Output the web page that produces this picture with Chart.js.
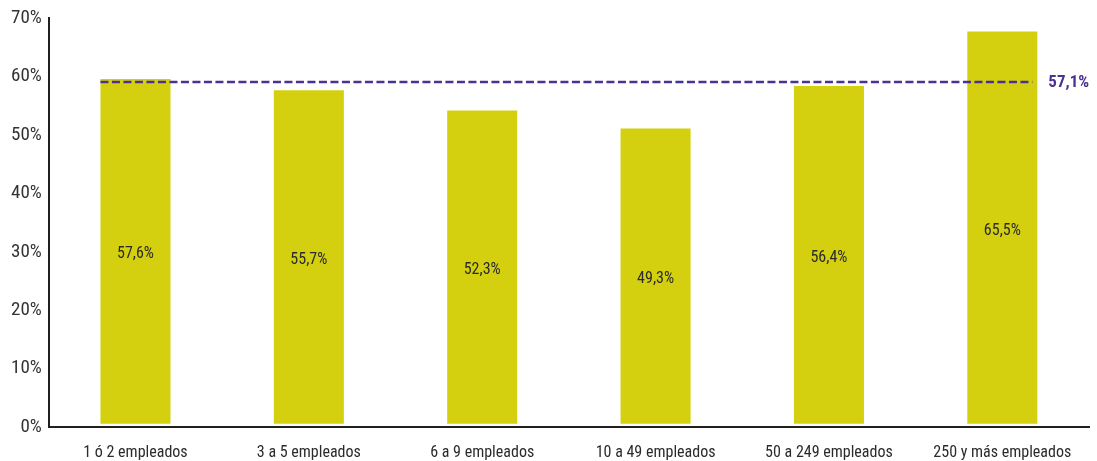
<!DOCTYPE html>
<html>
<head>
<meta charset="utf-8">
<script src="https://cdn.jsdelivr.net/npm/chart.js@4/dist/chart.umd.min.js"></script>
<style>
  html, body { margin: 0; padding: 0; background: #fff; }
  #wrap { width: 1097px; height: 461px; }
</style>
</head>
<body>
<div id="wrap"><canvas id="empChart"></canvas></div>
<script>
const categories = ['1 ó 2 empleados', '3 a 5 empleados', '6 a 9 empleados', '10 a 49 empleados', '50 a 249 empleados', '250 y más empleados'];
const shares = [57.6, 55.7, 52.3, 49.3, 56.4, 65.5];
const average = 57.1;
const yTicks = [0, 10, 20, 30, 40, 50, 60, 70];

const narrow = "'Liberation Sans Narrow', 'Roboto Condensed', 'Arial Narrow', sans-serif";
const fmt = v => v.toFixed(1).replace('.', ',') + '%';

// labels inside bars + dashed average line
const overlay = {
  id: 'overlay',
  afterDatasetsDraw(chart) {
    const ctx = chart.ctx;
    const bars = chart.getDatasetMeta(0).data;
    const yb = chart.scales.yb;

    ctx.save();
    ctx.font = '16px ' + narrow;
    ctx.fillStyle = '#2b2b2b';
    ctx.textAlign = 'center';
    ctx.textBaseline = 'middle';
    bars.forEach((b, i) => {
      ctx.fillText(fmt(shares[i]), b.x, (b.y + b.base) / 2 + 3);
    });

    const yy = yb.getPixelForValue(average);
    const first = bars[0], last = bars[bars.length - 1];
    ctx.strokeStyle = '#4b3193';
    ctx.lineWidth = 2.5;
    ctx.setLineDash([8, 3.5]);
    ctx.beginPath();
    ctx.moveTo(first.x - first.width / 2, yy);
    ctx.lineTo(last.x + last.width / 2 - 5, yy);
    ctx.stroke();

    ctx.setLineDash([]);
    ctx.font = 'bold 17px ' + narrow;
    ctx.fillStyle = '#4b3193';
    ctx.textAlign = 'left';
    ctx.fillText(fmt(average), last.x + last.width / 2 + 11, yy + 1);
    ctx.restore();
  }
};

new Chart(document.getElementById('empChart'), {
  type: 'bar',
  data: {
    labels: categories,
    datasets: [{
      data: shares,
      yAxisID: 'yb',
      backgroundColor: '#d5d00f',
      borderWidth: 0,
      categoryPercentage: 1,
      barPercentage: 0.404
    }]
  },
  options: {
    responsive: true,
    maintainAspectRatio: false,
    animation: false,
    layout: { padding: { top: 7, right: 8, left: 4, bottom: -19 } },
    plugins: {
      legend: { display: false },
      tooltip: { enabled: false }
    },
    scales: {
      x: {
        grid: { display: false, drawTicks: false },
        border: { display: true, color: '#231f20', width: 2 },
        ticks: {
          color: '#2b2b2b',
          font: { family: narrow, size: 16 },
          padding: 17
        }
      },
      y: {
        min: 0,
        max: 70,
        afterBuildTicks: axis => { axis.ticks = yTicks.map(v => ({ value: v })); },
        grid: { display: false, drawTicks: false },
        border: { display: true, color: '#231f20', width: 2 },
        ticks: {
          color: '#333',
          font: { family: narrow, size: 19 },
          padding: 7,
          callback: v => v + '%'
        }
      },
      yb: {
        display: false,
        min: -0.5,
        max: 67.7
      }
    }
  },
  plugins: [overlay]
});
</script>
</body>
</html>
